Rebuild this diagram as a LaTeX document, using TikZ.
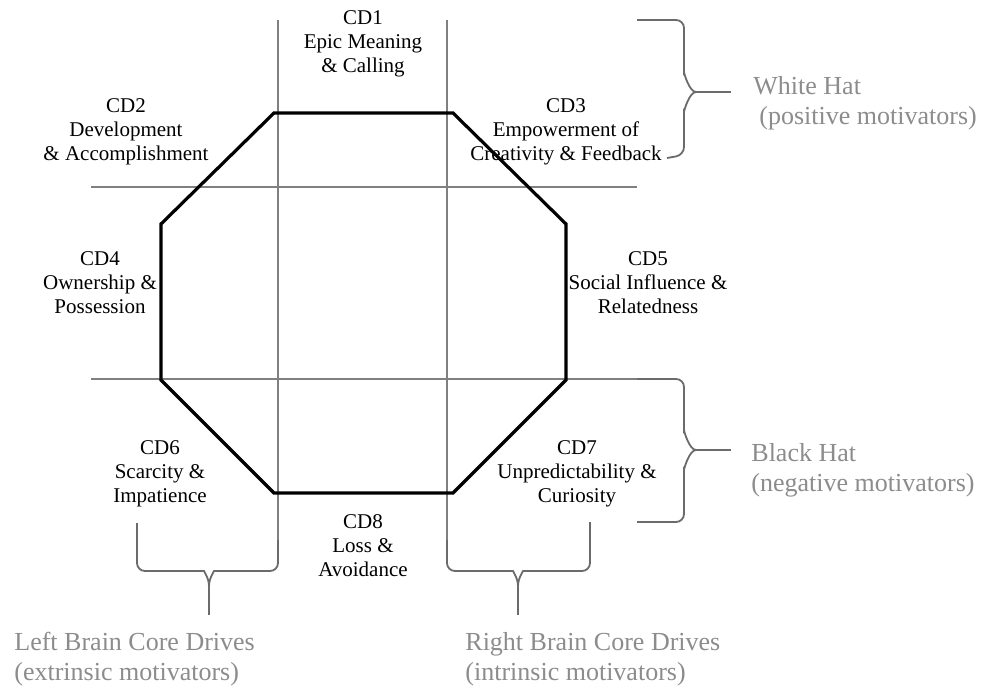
\documentclass[tikz,border=0pt]{standalone}
\usepackage{fontspec}
\setmainfont{Liberation Serif}
\usepackage{tikz}
\usetikzlibrary{positioning}
\definecolor{hatgray}{gray}{0.55}
\definecolor{linegray}{gray}{0.5}
\definecolor{bracegray}{gray}{0.42}
\tikzset{
    drive/.style={
        align=center, inner sep=0pt, text=black, font=\fontsize{10.5}{12}\selectfont
    },
    hatlabel/.style={
        align=left, anchor=west, inner sep=0pt, text=hatgray, font=\fontsize{13}{15}\selectfont
    },
    gridline/.style={
        draw=linegray, line width=1pt
    },
    octaline/.style={
        draw=black, line width=1.6pt, line join=miter
    },
    bracket/.style={
        draw=bracegray, line width=0.9pt, rounded corners=4pt
    }
}

\begin{document}
\begin{tikzpicture}[x=0.5pt, y=-0.5pt]
    \useasboundingbox (0, 0) rectangle (984, 689);
    % quadrant lines
    \draw[gridline] (91, 187) -- (637, 187);
    \draw[gridline] (91, 379) -- (637, 379);
    \draw[gridline] (278, 20) -- (278, 550);
    \draw[gridline] (447, 20) -- (447, 550);
    % octagon
    \draw[octaline] (274, 113) -- (453, 113) -- (566, 224) -- (566, 380)
        -- (453, 493) -- (274, 493) -- (161, 380) -- (161, 224) -- cycle;
    % braces
    \coordinate (wtip) at (731, 92);
    \coordinate (btip) at (731, 450);
    \coordinate (ltip) at (209, 615);
    \coordinate (rtip) at (518, 615);
    \draw[bracket] (637, 20) -- (684, 20) -- (684, 80) to[out=90, in=180] (696, 92);
    \draw[bracket] (696, 92) to[out=180, in=-90] (684, 104) -- (684, 155) -- (667, 158);
    \draw[bracket] (696, 92) -- (wtip);
    \draw[bracket] (637, 379) -- (684, 379) -- (684, 438) to[out=90, in=180] (696, 450);
    \draw[bracket] (696, 450) to[out=180, in=-90] (684, 462) -- (684, 522) -- (637, 522);
    \draw[bracket] (696, 450) -- (btip);
    \draw[bracket] (137, 523) -- (137, 571) -- (196, 571) to[out=0, in=90] (209, 586);
    \draw[bracket] (209, 586) to[out=90, in=180] (222, 571) -- (278, 571) -- (278, 540);
    \draw[bracket] (209, 586) -- (ltip);
    \draw[bracket] (590, 522) -- (590, 571) -- (531, 571) to[out=180, in=90] (518, 586);
    \draw[bracket] (518, 586) to[out=90, in=0] (505, 571) -- (447, 571) -- (447, 540);
    \draw[bracket] (518, 586) -- (rtip);
    % core drives
    \node[drive] (cd1) at (363, 44) {CD1\\Epic Meaning\\\& Calling};
    \node[drive] (cd2) at (126, 132) {CD2\\Development\\\& Accomplishment};
    \node[drive] (cd3) at (566, 132) {CD3\\Empowerment of\\Creativity \& Feedback};
    \node[drive] (cd4) at (100, 283) {CD4\\Ownership \&\\Possession};
    \node[drive] (cd5) at (648, 283) {CD5\\Social Influence \&\\Relatedness};
    \node[drive] (cd6) at (160, 474) {CD6\\Scarcity \&\\Impatience};
    \node[drive] (cd7) at (577, 474) {CD7\\Unpredictability \&\\Curiosity};
    \node[drive] (cd8) at (363, 546) {CD8\\Loss \&\\Avoidance};
    % hats and brain sides
    \node[hatlabel] (white) at (753, 103) {White Hat\\\hspace*{3pt}(positive motivators)};
    \node[hatlabel] (black) at (751, 470) {Black Hat\\(negative motivators)};
    \node[hatlabel] (left) at (14, 659) {Left Brain Core Drives\\(extrinsic motivators)};
    \node[hatlabel] (right) at (465, 659) {Right Brain Core Drives\\(intrinsic motivators)};
\end{tikzpicture}
\end{document}
